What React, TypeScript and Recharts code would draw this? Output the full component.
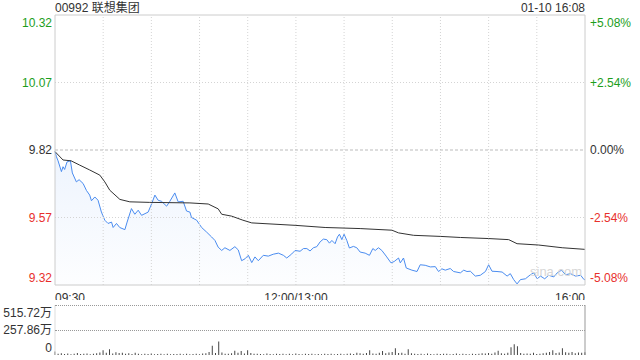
import {
  ComposedChart,
  Area,
  Line,
  Bar,
  XAxis,
  YAxis,
  ReferenceLine,
} from 'recharts'

const PREV_CLOSE = 9.82
const GREEN = '#1c9e1c'
const RED = '#e8302c'
const FONT = '"Liberation Sans", Arial, "Noto Sans CJK SC", sans-serif'

// minutes since 09:30 (lunch break removed)
const priceMinutes = [
  0, 0.9, 1.9, 4, 5, 6, 7.5, 9.6, 10.8, 13.3, 15, 17.5, 19.6, 21.6, 22.7, 24.8,
  26.8, 28.9, 31, 33, 35.2, 36.2, 38.3, 40.3, 43.5, 44.9, 47.6, 49.7, 51.8,
  53.9, 58, 60.1, 62.2, 64.2, 66.3, 69.5, 71.5, 74.6, 76.7, 79.8, 81.9, 84, 85,
  88.2, 91.3, 94.4, 97.5, 99.6, 101.6, 103.8, 105.8, 108.9, 112, 114.1, 116.2,
  118.3, 120.4, 122.5, 124.5, 126.6, 129.7, 132.8, 135.9, 139.1, 142.2, 144.3,
  147.4, 149.5, 152.6, 154.7, 156.8, 158.8, 160.9, 163, 165.1, 167.1, 169.2,
  170.9, 172.4, 174.4, 175.9, 177.1, 178.6, 180, 181.7, 183.3, 185.8, 187.9,
  190, 193.1, 195.8, 197.9, 199.4, 201.4, 203.5, 206.2, 209.2, 211.2, 213.9,
  215, 217, 218.7, 222.2, 225.4, 227.4, 230.5, 233.7, 236.8, 238.8, 240.9, 243,
  246.1, 248.2, 252.4, 254.5, 256.5, 258.6, 261.7, 264.8, 268, 270, 272.1,
  275.2, 278.4, 281.5, 283.5, 285.6, 287.7, 289.8, 292.9, 296, 298.1, 300.2,
  302.3, 304.9, 307.4, 310.6, 312.7, 315.4, 317.9, 321, 324.1, 327.3, 329.4,
  330,
]
const prices = [
  9.814, 9.795, 9.78, 9.74, 9.758, 9.748, 9.776, 9.78, 9.735, 9.702, 9.71,
  9.696, 9.67, 9.653, 9.632, 9.646, 9.634, 9.59, 9.56, 9.548, 9.553, 9.533,
  9.548, 9.533, 9.525, 9.553, 9.603, 9.582, 9.597, 9.578, 9.59, 9.62, 9.653,
  9.634, 9.63, 9.612, 9.63, 9.661, 9.628, 9.63, 9.594, 9.59, 9.57, 9.56, 9.533,
  9.516, 9.498, 9.485, 9.46, 9.448, 9.458, 9.448, 9.462, 9.45, 9.41, 9.417,
  9.43, 9.403, 9.424, 9.41, 9.43, 9.427, 9.434, 9.438, 9.43, 9.42, 9.435,
  9.448, 9.445, 9.455, 9.455, 9.446, 9.458, 9.462, 9.48, 9.49, 9.488, 9.475,
  9.485, 9.473, 9.498, 9.508, 9.488, 9.508, 9.485, 9.457, 9.463, 9.458, 9.442,
  9.438, 9.43, 9.455, 9.448, 9.458, 9.448, 9.427, 9.402, 9.407, 9.42, 9.402,
  9.42, 9.383, 9.375, 9.37, 9.395, 9.393, 9.387, 9.388, 9.37, 9.38, 9.375,
  9.381, 9.37, 9.365, 9.375, 9.37, 9.371, 9.353, 9.356, 9.37, 9.395, 9.371,
  9.37, 9.368, 9.353, 9.362, 9.34, 9.324, 9.34, 9.343, 9.358, 9.365, 9.343,
  9.353, 9.343, 9.356, 9.35, 9.365, 9.375, 9.358, 9.362, 9.353, 9.356, 9.34,
  9.34,
]

const avgMinutes = [
  0, 5, 10, 15.4, 21.6, 27.9, 31, 34.1, 40.4, 46.6, 59, 84, 95.4, 101.6, 103.8,
  110, 117, 122.5, 149.5, 168.2, 190, 209.8, 213.9, 223.3, 239.9, 252.4, 270,
  282.5, 287.7, 301.2, 315.8, 330,
]
const avgPrices = [
  9.814, 9.783, 9.78, 9.764, 9.746, 9.727, 9.702, 9.671, 9.637, 9.628, 9.626,
  9.624, 9.62, 9.602, 9.582, 9.575, 9.56, 9.55, 9.541, 9.533, 9.529, 9.523,
  9.513, 9.504, 9.5, 9.496, 9.492, 9.488, 9.473, 9.468, 9.458, 9.452,
]

// volume in 万, one bar per 2 minutes
const volumes = [
  35, 12, 18, 10, 15, 9, 14, 20, 11, 13,
  16, 9, 12, 18, 25, 50, 22, 60, 15, 28,
  20, 24, 13, 18, 10, 22, 14, 9, 12, 11,
  15, 8, 10, 12, 9, 14, 8, 11, 10, 12,
  9, 13, 8, 10, 12, 9, 15, 18, 30, 95,
  20, 140, 25, 14, 12, 18, 45, 22, 40, 16,
  50, 20, 14, 12, 10, 9, 15, 11, 8, 12,
  10, 14, 9, 12, 8, 16, 11, 9, 13, 10,
  12, 8, 11, 9, 14, 10, 12, 8, 10, 13,
  9, 12, 15, 10, 22, 18, 12, 20, 50, 16,
  14, 22, 40, 18, 25, 30, 70, 20, 24, 12,
  60, 18, 14, 10, 12, 9, 16, 11, 8, 13,
  10, 12, 14, 9, 11, 16, 8, 12, 10, 9,
  13, 10, 12, 18, 15, 20, 14, 25, 45, 18,
  12, 22, 80, 110, 90, 20, 14, 16, 12, 24,
  10, 14, 18, 22, 30, 50, 20, 26, 70, 28,
  24, 30, 18, 26, 22, 28,
]

const priceTicks = [9.32, 9.57, 9.82, 10.07, 10.32]
const pctTicks = [-5.08, -2.54, 0, 2.54, 5.08]
const timeTicks = [0, 150, 330]
const timeLabels = ['09:30', '12:00/13:00', '16:00']
const gridMinutes = [30, 60, 90, 120, 150, 180, 210, 240, 270, 300]
const volTicks = [0, 257.86, 515.72]

const priceData = priceMinutes.map((t, i) => ({ t, p: prices[i] }))
const avgData = avgMinutes.map((t, i) => ({ t, a: avgPrices[i] }))
// same prices as % change, only to drive the right-hand axis
const pctData = priceMinutes.map((t, i) => ({ t, c: ((prices[i] - PREV_CLOSE) / PREV_CLOSE) * 100 }))
const volData = volumes.map((v, i) => ({ t: i * 2, v }))

const edgeDy = (i: number, n: number) => (i === n - 1 ? 12 : i === 0 ? -3 : 4)

const PriceTick = (props: any) => {
  const { x, y, payload, index } = props
  const v = payload.value
  const color = v > PREV_CLOSE ? GREEN : v < PREV_CLOSE ? RED : '#333'
  return (
    <text x={x} y={y} dy={edgeDy(index, priceTicks.length)} textAnchor="end"
      fill={color} fontSize={12} fontFamily={FONT}>
      {v.toFixed(2)}
    </text>
  )
}

const PctTick = (props: any) => {
  const { x, y, payload, index } = props
  const v = payload.value
  const color = v > 0 ? GREEN : v < 0 ? RED : '#333'
  const label = (v > 0 ? '+' : '') + v.toFixed(2) + '%'
  return (
    <text x={x} y={y} dy={edgeDy(index, pctTicks.length)} textAnchor="start"
      fill={color} fontSize={12} fontFamily={FONT}>
      {label}
    </text>
  )
}

const TimeTick = (props: any) => {
  const { x, y, payload, index } = props
  const anchor = index === 0 ? 'start' : index === timeTicks.length - 1 ? 'end' : 'middle'
  return (
    <text x={x} y={y} dy={9} textAnchor={anchor} fill="#333" fontSize={12}
      fontFamily={FONT}>
      {timeLabels[index] ?? payload.value}
    </text>
  )
}

const VolTick = (props: any) => {
  const { x, y, payload, index } = props
  const v = payload.value
  return (
    <text x={x} y={y} dy={edgeDy(index, volTicks.length)} textAnchor="end"
      fill="#333" fontSize={12} fontFamily={FONT}>
      {v === 0 ? '0' : v.toFixed(2) + '万'}
    </text>
  )
}

// dotted guides of the volume panel (plain page decoration)
const guideStyle = (top: number): React.CSSProperties => ({
  position: 'absolute', left: 55, top, width: 530, height: 0,
  borderTop: '1px dotted #999', zIndex: 2,
})

export default function App() {
  return (
    <div style={{ position: 'relative', width: 640, height: 360, background: '#fff', fontFamily: FONT }}>
      <style>{'body{margin:0}'}</style>
      <div style={{ position: 'absolute', left: 55, top: 0, fontSize: 12, lineHeight: '16px', color: '#333' }}>
        00992 联想集团
      </div>
      <div style={{ position: 'absolute', right: 55, top: 0, fontSize: 12, lineHeight: '16px', color: '#333' }}>
        01-10 16:08
      </div>

      <div style={{ position: 'absolute', left: 0, top: 0, height: 300, overflow: 'hidden' }}>
        <ComposedChart width={640} height={310} margin={{ top: 15, right: 0, bottom: 5, left: 0 }}>
          <defs>
            <linearGradient id="priceFill" x1="0" y1="0" x2="0" y2="1">
              <stop offset="0%" stopColor="#4a8cf0" stopOpacity={0.16} />
              <stop offset="100%" stopColor="#4a8cf0" stopOpacity={0.02} />
            </linearGradient>
          </defs>
          <XAxis type="number" dataKey="t" domain={[0, 330]} ticks={timeTicks}
            tick={<TimeTick />} axisLine={false} tickLine={false} height={20}
            interval={0} allowDuplicatedCategory={false} />
          <YAxis yAxisId="price" domain={[9.32, 10.32]} ticks={priceTicks}
            tick={<PriceTick />} axisLine={false} tickLine={false} tickSize={0}
            tickMargin={3} width={55} interval={0} />
          <YAxis yAxisId="pct" orientation="right" domain={[-5.08, 5.08]}
            ticks={pctTicks} tick={<PctTick />} axisLine={false} tickLine={false}
            tickSize={0} tickMargin={5} width={55} interval={0} allowDataOverflow />
          {gridMinutes.map((m) => (
            <ReferenceLine key={m} yAxisId="price" x={m} stroke="#d4d4d4" strokeDasharray="1 2" />
          ))}
          <ReferenceLine yAxisId="price" y={10.07} stroke="#d4d4d4" strokeDasharray="1 2" />
          <ReferenceLine yAxisId="price" y={9.57} stroke="#d4d4d4" strokeDasharray="1 2" />
          <ReferenceLine yAxisId="price" y={PREV_CLOSE} stroke="#bbb" strokeDasharray="3 2" />
          <Line yAxisId="pct" data={pctData} dataKey="c" type="linear"
            stroke="none" dot={false} activeDot={false} isAnimationActive={false} />
          <Area yAxisId="price" data={priceData} dataKey="p" type="linear"
            stroke="#4a8cf0" strokeWidth={1} fill="url(#priceFill)"
            baseValue={9.32} isAnimationActive={false} dot={false} />
          <Line yAxisId="price" data={avgData} dataKey="a" type="linear"
            stroke="#333" strokeWidth={1} dot={false} isAnimationActive={false} />
          <ReferenceLine yAxisId="price" x={0} stroke="#ccc" />
          <ReferenceLine yAxisId="price" x={330} stroke="#ccc" />
          <ReferenceLine yAxisId="price" y={10.32} stroke="#ccc" />
          <ReferenceLine yAxisId="price" y={9.32} stroke="#ccc" />
        </ComposedChart>
      </div>

      <div style={{ position: 'absolute', left: 530, top: 264, fontSize: 13, color: '#d6d6d6' }}>
        sina.com
      </div>

      <div style={{ position: 'absolute', left: 0, top: 300 }}>
        <ComposedChart width={640} height={60} data={volData}
          margin={{ top: 5, right: 0, bottom: 5, left: 0 }}>
          <XAxis type="number" dataKey="t" domain={[0, 330]} tick={false}
            axisLine={false} tickLine={false} height={0} />
          <YAxis yAxisId="vol" domain={[0, 515.72]} ticks={volTicks} tick={<VolTick />}
            axisLine={{ stroke: '#ddd' }} tickLine={false} tickSize={0} tickMargin={3}
            width={55} interval={0} allowDataOverflow />
          <YAxis yAxisId="edge" orientation="right" domain={[0, 515.72]} tick={false}
            axisLine={{ stroke: '#999' }} tickLine={false} width={55} allowDataOverflow />
          <Bar yAxisId="vol" dataKey="v" fill="#444" barSize={1} isAnimationActive={false} />
        </ComposedChart>
      </div>

      <div style={guideStyle(305)} />
      <div style={guideStyle(330)} />
    </div>
  )
}
